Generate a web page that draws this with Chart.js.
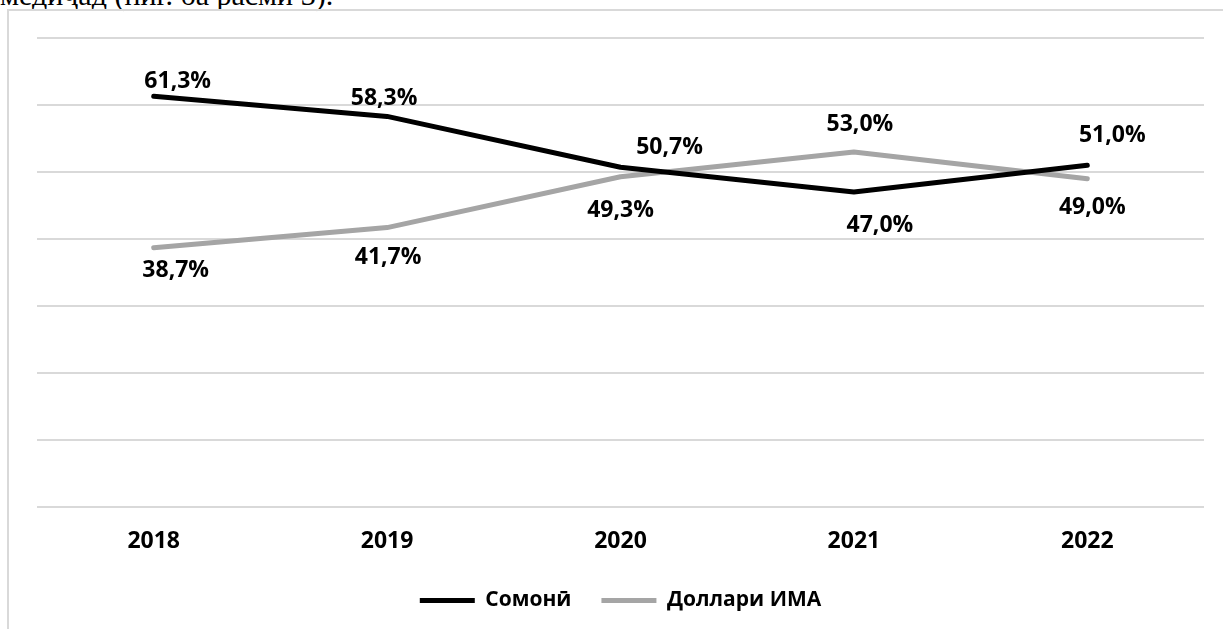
<!DOCTYPE html>
<html>
<head>
<meta charset="utf-8">
<script src="https://cdn.jsdelivr.net/npm/chart.js@4"></script>
<style>
  html, body { margin: 0; padding: 0; background: #fff; width: 1223px; height: 629px; overflow: hidden; }
  #frame { position: absolute; left: 7px; top: 9px; width: 1300px; height: 700px;
           border-left: 2px solid #d9d9d9; border-top: 2px solid #d9d9d9; box-sizing: border-box; }
  #para { position: absolute; left: 0px; top: -22px; font-family: "Liberation Serif", "DejaVu Serif", serif;
          font-size: 30px; color: #000; white-space: nowrap; }
  #wrap { position: absolute; left: 0; top: 0; width: 1223px; height: 629px; }
</style>
</head>
<body>
<div id="para">медиҷад (ниг. ба расми 3).</div>
<div id="frame"></div>
<div id="wrap"><canvas id="c" width="1223" height="629"></canvas></div>
<script>
const categories = ["2018", "2019", "2020", "2021", "2022"];
const somoniValues = [61.3, 58.3, 50.7, 47.0, 51.0];
const dollarValues = [38.7, 41.7, 49.3, 53.0, 49.0];
const seriesNames = ["Сомонӣ", "Доллари ИМА"];
const yTicks = [0, 10, 20, 30, 40, 50, 60, 70];

// label placement offsets (pixels, relative to the point)
const somoniLabelDx = [24, -3, 49, 26, 25];
const somoniLabelDy = [-15, -18, -20, 33, -30];
const dollarLabelDx = [22, 1, 0, 6, 5];
const dollarLabelDy = [23, 30, 34, -27, 29];

const FONT = '"Open Sans", "Noto Sans", sans-serif';

const labelPlugin = {
  id: 'pointLabels',
  afterDatasetsDraw(chart) {
    const ctx = chart.ctx;
    ctx.save();
    ctx.font = 'bold 23px ' + FONT;
    ctx.fillStyle = '#000';
    ctx.textAlign = 'center';
    ctx.textBaseline = 'middle';
    const offs = [[somoniLabelDx, somoniLabelDy], [dollarLabelDx, dollarLabelDy]];
    chart.data.datasets.forEach((ds, di) => {
      const meta = chart.getDatasetMeta(di);
      meta.data.forEach((pt, i) => {
        const txt = ds.data[i].toFixed(1).replace('.', ',') + '%';
        ctx.fillText(txt, pt.x + offs[di][0][i], pt.y + offs[di][1][i]);
      });
    });
    ctx.restore();
  }
};

new Chart(document.getElementById('c'), {
  type: 'line',
  data: {
    labels: categories,
    datasets: [
      { label: seriesNames[0], data: somoniValues, borderColor: '#000000', backgroundColor: '#000000',
        borderWidth: 5, pointRadius: 0, tension: 0, borderCapStyle: 'round', borderJoinStyle: 'round' },
      { label: seriesNames[1], data: dollarValues, borderColor: '#a5a5a5', backgroundColor: '#a5a5a5',
        borderWidth: 5, pointRadius: 0, tension: 0, borderCapStyle: 'round', borderJoinStyle: 'round' }
    ]
  },
  options: {
    responsive: false,
    animation: false,
    devicePixelRatio: 1,
    layout: { padding: { left: 37, right: 19, top: 38, bottom: 8 } },
    scales: {
      x: {
        offset: true,
        grid: { display: false, drawTicks: false },
        border: { display: false },
        ticks: { padding: 21, color: '#000', font: { family: FONT, size: 23, weight: 'bold' }, maxRotation: 0 },
        afterFit(scale) { scale.height = 53; }
      },
      y: {
        min: 0, max: 70,
        afterBuildTicks(scale) { scale.ticks = yTicks.map(v => ({ value: v })); },
        grid: { color: '#d9d9d9', lineWidth: 2, drawTicks: false },
        border: { display: false },
        ticks: { display: false },
        afterFit(scale) { scale.width = 0; }
      }
    },
    plugins: {
      legend: {
        position: 'bottom',
        labels: {
          color: '#000',
          font: { family: FONT, size: 21, weight: 'bold' },
          boxWidth: 55, boxHeight: 5, padding: 30,
          generateLabels(chart) {
            return chart.data.datasets.map((ds, i) => ({
              text: ds.label, fillStyle: ds.borderColor, strokeStyle: ds.borderColor,
              lineWidth: 0, hidden: false, datasetIndex: i, fontColor: '#000'
            }));
          }
        }
      },
      tooltip: { enabled: false }
    }
  },
  plugins: [labelPlugin]
});
</script>
</body>
</html>
